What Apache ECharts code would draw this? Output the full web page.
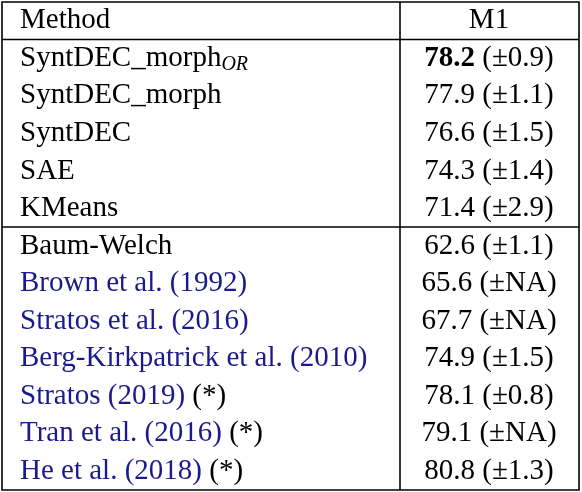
<!DOCTYPE html>
<html>
<head>
<meta charset="utf-8">
<script src="https://cdn.jsdelivr.net/npm/echarts@6/dist/echarts.min.js"></script>
<style>html,body{margin:0;padding:0;background:#fff}#c{width:582px;height:492px}</style>
</head>
<body>
<div id="c"></div>
<script>
// table rows
const methods = ['SyntDEC_morph', 'SyntDEC_morph', 'SyntDEC', 'SAE', 'KMeans', 'Baum-Welch',
  'Brown et al. (1992)', 'Stratos et al. (2016)', 'Berg-Kirkpatrick et al. (2010)',
  'Stratos (2019)', 'Tran et al. (2016)', 'He et al. (2018)']
const subscripts = ['OR', '', '', '', '', '', '', '', '', '', '', '']
const cited = [false, false, false, false, false, false, true, true, true, true, true, true]
const starred = [false, false, false, false, false, false, false, false, false, true, true, true]
const scores = ['78.2', '77.9', '76.6', '74.3', '71.4', '62.6', '65.6', '67.7', '74.9', '78.1', '79.1', '80.8']
const stds = ['0.9', '1.1', '1.5', '1.4', '2.9', '1.1', 'NA', 'NA', '1.5', '0.8', 'NA', '1.3']
const boldRow = 0

const rows = ['header', ...methods.map((m, i) => 'r' + i)]

const chart = echarts.init(document.getElementById('c'))
const font = 'Liberation Serif'
const rich = {
  n: { fontFamily: font, fontSize: 29, color: '#000' },
  c: { fontFamily: font, fontSize: 29, color: '#1a1a8c' },
  s: { fontFamily: font, fontSize: 20, fontStyle: 'italic', color: '#000', verticalAlign: 'bottom', padding: [12, 0, 0, 0] },
  b: { fontFamily: font, fontSize: 29, fontWeight: 'bold', color: '#000' }
}

const leftData = [{ value: [20, 'header'], label: { formatter: '{n|Method}' } }]
const rightData = [{ value: [489, 'header'], label: { formatter: '{n|M1}' } }]
methods.forEach((m, i) => {
  let t = cited[i] ? '{c|' + m + '}' : '{n|' + m + '}'
  if (subscripts[i]) t += '{s|' + subscripts[i] + '}'
  if (starred[i]) t += '{n| (*)}'
  leftData.push({ value: [20, rows[i + 1]], label: { formatter: t } })
  const sc = i === boldRow ? '{b|' + scores[i] + '}' : '{n|' + scores[i] + '}'
  rightData.push({ value: [489, rows[i + 1]], label: { formatter: sc + '{n| (±' + stds[i] + ')}' } })
})

const labelBase = { show: true, position: 'inside', rich, opacity: 1, color: '#000' }
chart.setOption({
  animation: false,
  grid: { left: 0, right: 0, top: 2, bottom: 2 },
  xAxis: { type: 'value', min: 0, max: 582, show: false },
  yAxis: { type: 'category', data: rows, inverse: true, show: false },
  series: [
    { type: 'scatter', symbolSize: 0, itemStyle: { opacity: 1 }, emphasis: { disabled: true }, data: leftData, label: { ...labelBase, align: 'left' } },
    { type: 'scatter', symbolSize: 0, itemStyle: { opacity: 1 }, emphasis: { disabled: true }, data: rightData, label: { ...labelBase, align: 'center' } }
  ],
  graphic: [
    { type: 'rect', shape: { x: 2, y: 2, width: 577, height: 488 }, style: { fill: 'none', stroke: '#000', lineWidth: 1.6 } },
    { type: 'line', shape: { x1: 400, y1: 2, x2: 400, y2: 490 }, style: { stroke: '#000', lineWidth: 1.6 } },
    { type: 'line', shape: { x1: 2, y1: 39.5, x2: 579, y2: 39.5 }, style: { stroke: '#000', lineWidth: 1.6 } },
    { type: 'line', shape: { x1: 2, y1: 227, x2: 579, y2: 227 }, style: { stroke: '#000', lineWidth: 1.6 } }
  ]
})
</script>
</body>
</html>
